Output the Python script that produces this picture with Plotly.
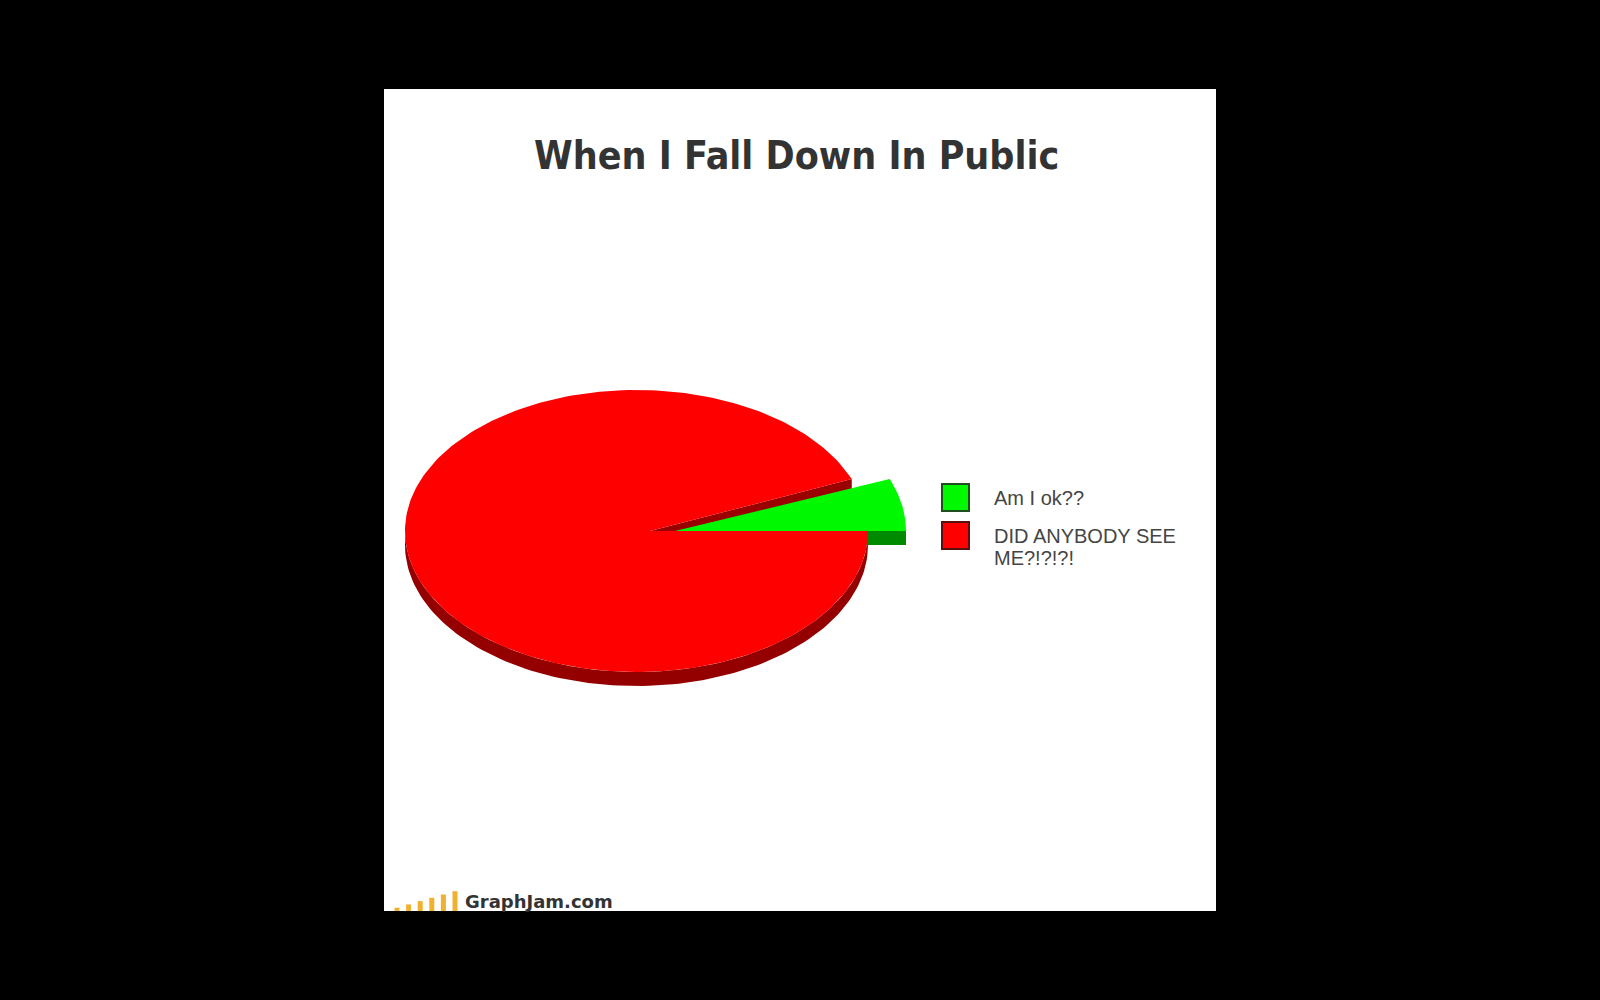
import math
import textwrap
import plotly.graph_objects as go

# ---- data ----
title = "When I Fall Down In Public"
categories = ["Am I ok??", "DID ANYBODY SEE ME?!?!?!"]
values = [6, 94]
top_colors = ["#00f800", "#fe0000"]
side_colors = ["#008a00", "#940000"]
border_colors = ["#1f4f1f", "#5a1010"]
logo_bars = [1, 2, 3, 4, 5, 6]
logo_text = "GraphJam.com"

# ---- geometry (pixel space axes) ----
W, H = 1600, 1000
cx, cy = 636.5, 531
rx, ry = 231.5, 141
depth = 14
apex_dx = 13.5        # perspective offset of the slice apex
explode_apex = 25     # offset of the exploded slice apex
explode_rim = 38      # offset of the exploded slice rim

fig = go.Figure()


def pt(ox, t):
    return (ox + rx * math.cos(t), cy - ry * math.sin(t))


def arc(ox, t0, t1, n=120, dy=0):
    xs, ys = [], []
    for i in range(n + 1):
        t = t0 + (t1 - t0) * i / n
        x, y = pt(ox, t)
        xs.append(x)
        ys.append(y + dy)
    return xs, ys


def poly(xs, ys, color):
    fig.add_trace(go.Scatter(x=xs + [xs[0]], y=ys + [ys[0]], mode="lines",
                             fill="toself", fillcolor=color,
                             line=dict(width=0, color=color),
                             hoverinfo="skip", showlegend=False))


total = sum(values)
t_green = 2 * math.pi * values[0] / total

# red visible faces (front rim + radial face at end of green slice)
ax_r = cx + apex_dx
lo, hi = max(math.pi, t_green), 2 * math.pi
x1, y1 = arc(cx, lo, hi)
x2, y2 = arc(cx, hi, lo, dy=depth)
poly(x1 + x2, y1 + y2, side_colors[1])
px_, py_ = pt(cx, t_green)
poly([ax_r, px_, px_, ax_r], [cy, py_, py_ + depth * 0.7, cy + depth * 0.7], "#9a0000")

# green slice (exploded)
gx = cx + explode_rim
ax_g = ax_r + explode_apex
p0x, p0y = pt(gx, 0)
poly([ax_g, p0x, p0x, ax_g], [cy, p0y, p0y + depth, cy + depth], side_colors[0])
xa, ya = arc(gx, 0, t_green, n=40)
poly([ax_g] + xa, [cy] + ya, top_colors[0])

# red top face
xr, yr = arc(cx, t_green, 2 * math.pi, n=240)
poly([ax_r] + xr, [cy] + yr, top_colors[1])

# legend (manual, larger squares)
leg_x = 955.5
leg_y = [497.5, 535.5]
fig.add_trace(go.Scatter(x=[leg_x] * len(categories), y=leg_y, mode="markers",
                         marker=dict(symbol="square", size=27, color=top_colors,
                                     line=dict(width=2, color=border_colors)),
                         hoverinfo="skip", showlegend=False))

annotations = []
for lab, y in zip(categories, leg_y):
    lines = textwrap.wrap(lab, 15)
    for j, ln in enumerate(lines):
        annotations.append(dict(x=992, y=y + j * 22.5, xref="x", yref="y",
                                text=ln, showarrow=False, xanchor="left",
                                yanchor="middle",
                                font=dict(family="Liberation Sans, Arial", size=20,
                                          color="#454545")))

annotations.append(dict(x=796, y=155, xref="x", yref="y", text="<b>" + title + "</b>",
                        showarrow=False, xanchor="center", yanchor="middle",
                        font=dict(family="DejaVu Sans Condensed, Arial Narrow",
                                  size=39, color="#333333")))

annotations.append(dict(x=463, y=901, xref="x", yref="y", text="<b>" + logo_text + "</b>",
                        showarrow=False, xanchor="left", yanchor="middle",
                        font=dict(family="DejaVu Sans, Verdana", size=18, color="#333333")))

shapes = [dict(type="rect", xref="x", yref="y", x0=384, x1=1216, y0=89, y1=911,
               fillcolor="white", line=dict(width=0), layer="below")]
for i, b in enumerate(logo_bars):
    bx = 397 + i * 11.6
    shapes.append(dict(type="rect", xref="x", yref="y", x0=bx - 2.5, x1=bx + 2.5,
                       y0=911 - 3.3 * b, y1=911, fillcolor="#f0b030",
                       line=dict(width=0), layer="above"))

fig.update_layout(
    width=W, height=H, margin=dict(l=0, r=0, t=0, b=0),
    paper_bgcolor="black", plot_bgcolor="black",
    xaxis=dict(range=[0, W], visible=False, fixedrange=True),
    yaxis=dict(range=[H, 0], visible=False, fixedrange=True),
    shapes=shapes, annotations=annotations, showlegend=False,
)

fig.write_html("out.html", config={"displayModeBar": False},
               post_script="document.body.style.margin='0';document.body.style.background='black';document.body.style.overflow='hidden';")
